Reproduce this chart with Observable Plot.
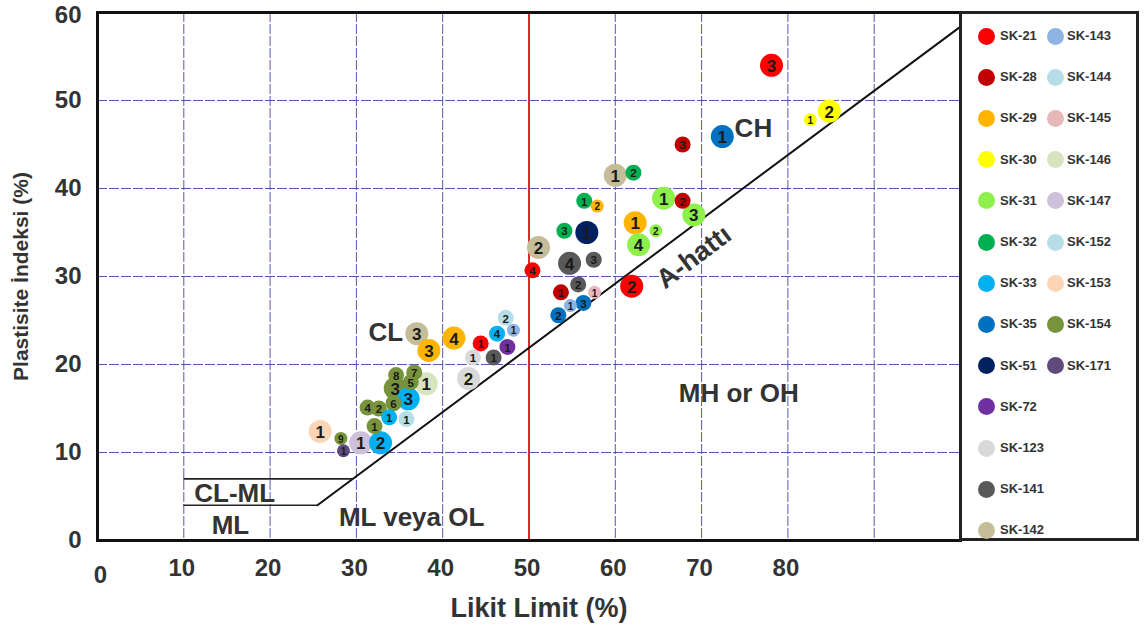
<!DOCTYPE html>
<html>
<head>
<meta charset="utf-8">
<script src="https://cdn.jsdelivr.net/npm/d3@7"></script>
<script src="https://cdn.jsdelivr.net/npm/@observablehq/plot@0.6"></script>
<style>
  body { margin: 0; background: #fff; }
  #chart { position: relative; width: 1144px; height: 631px; font-family: "Liberation Sans", Arial, sans-serif; }
  #legend { position: absolute; left: 959px; top: 11px; width: 180px; height: 530px; border: 3px solid #222; box-sizing: border-box; background: #fff; }
  .sw { position: absolute; width: 17px; height: 17px; border-radius: 50%; }
  .lab { position: absolute; font-weight: bold; font-size: 13px; color: #333; line-height: 14px; }
</style>
</head>
<body>
<div id="chart"><div id="legend"></div></div>
<script>
// ---- Data: samples, point labels, Likit Limit (LL) and Plastisite İndeksi (PI) ----
const samples = ["SK-21", "SK-28", "SK-29", "SK-30", "SK-31", "SK-32", "SK-33", "SK-35", "SK-51", "SK-72", "SK-123",
  "SK-141", "SK-142", "SK-143", "SK-144", "SK-145", "SK-146", "SK-147", "SK-152", "SK-153", "SK-154", "SK-171"];

const pointSample = [
  "SK-142", "SK-29", "SK-29", "SK-21", "SK-72", "SK-141", "SK-123", "SK-33", "SK-143", "SK-144",
  "SK-123", "SK-154", "SK-154", "SK-154", "SK-154", "SK-146", "SK-33", "SK-154", "SK-154", "SK-154",
  "SK-33", "SK-152", "SK-154", "SK-153", "SK-154", "SK-147", "SK-33", "SK-171",
  "SK-142", "SK-32", "SK-32", "SK-29", "SK-32", "SK-51", "SK-142", "SK-141", "SK-141", "SK-21",
  "SK-29", "SK-31", "SK-31", "SK-31", "SK-28", "SK-31", "SK-21", "SK-141", "SK-145", "SK-28",
  "SK-143", "SK-35", "SK-35", "SK-21", "SK-30", "SK-30", "SK-35", "SK-28"
];
const pointLabel = [
  "3", "3", "4", "1", "1", "1", "1", "4", "1", "2",
  "2", "8", "7", "3", "5", "1", "3", "6", "4", "2",
  "1", "1", "1", "1", "9", "1", "2", "1",
  "1", "2", "1", "2", "3", "1", "2", "4", "3", "4",
  "1", "2", "4", "1", "2", "3", "2", "2", "1", "1",
  "1", "3", "2", "3", "2", "1", "1", "3"
];
const likitLimit = [
  37.0, 38.4, 41.3, 44.4, 47.5, 45.9, 43.5, 46.3, 48.2, 47.3,
  43.0, 34.6, 36.7, 34.5, 36.3, 38.1, 36.0, 34.3, 31.3, 32.6,
  33.8, 35.8, 32.1, 25.8, 28.2, 30.5, 32.8, 28.5,
  60.0, 62.1, 56.4, 57.9, 54.1, 56.7, 51.1, 54.7, 57.5, 50.4,
  62.3, 64.7, 62.7, 65.6, 67.8, 69.1, 61.9, 55.7, 57.6, 53.7,
  54.8, 56.3, 53.4, 78.1, 84.8, 82.6, 72.4, 67.8
];
const plastisiteIndeksi = [
  23.5, 21.6, 23.0, 22.4, 22.0, 20.8, 20.8, 23.5, 23.9, 25.3,
  18.4, 18.8, 19.1, 17.3, 18.0, 17.8, 16.1, 15.6, 15.1, 15.0,
  14.0, 13.8, 13.0, 12.4, 11.6, 11.1, 11.1, 10.2,
  41.5, 41.8, 38.6, 38.0, 35.2, 35.0, 33.3, 31.5, 31.9, 30.7,
  36.1, 35.2, 33.6, 38.9, 38.6, 37.0, 28.9, 29.1, 28.2, 28.2,
  26.7, 27.0, 25.6, 54.0, 48.8, 47.8, 45.9, 45.0
];

// Tick values and zone annotations
const xTicks = [10, 20, 30, 40, 50, 60, 70, 80];
const yTicks = [0, 10, 20, 30, 40, 50];
const zoneText = ["CL", "CH", "MH or OH", "CL-ML", "ML", "ML veya OL"];
const zoneLL = [33.4, 76.0, 74.3, 15.9, 15.4, 36.4];
const zonePI = [23.6, 46.8, 16.7, 5.3, 1.7, 2.6];

// ---- Styles ----
const sampleColors = ["#ff0000", "#c00000", "#ffb400", "#ffff00", "#8ef04a", "#00b050", "#00b0f0", "#0070c0", "#002060",
  "#7030a0", "#d9d9d9", "#595959", "#c4bd97", "#8db4e2", "#b7dee8", "#e6b9b8", "#d7e4bd", "#ccc0da", "#b7dee8",
  "#fcd5b4", "#77933c", "#604a7b"];
const bigMarks = new Set(["SK-142:3", "SK-29:3", "SK-29:4", "SK-123:2", "SK-154:3", "SK-146:1", "SK-33:3", "SK-153:1",
  "SK-147:1", "SK-33:2", "SK-142:1", "SK-51:1", "SK-142:2", "SK-141:4", "SK-29:1", "SK-31:4", "SK-31:1", "SK-31:3",
  "SK-21:2", "SK-21:3", "SK-30:2", "SK-35:1"]);
const tinyMarks = new Set(["SK-154:9", "SK-171:1", "SK-30:1", "SK-31:2", "SK-29:2", "SK-143:1", "SK-145:1"]);
const sizeClasses = [
  {name: "big", r: 11.5, font: 17},
  {name: "small", r: 8, font: 11.5},
  {name: "tiny", r: 6.5, font: 10}
];
const font = '"Liberation Sans", Arial, sans-serif';
const ink = "#333";
const gridStyle = {stroke: "#3c3c9c", strokeOpacity: 0.85, strokeDasharray: "10,2", strokeWidth: 1};
const tickStyle = {tickSize: 0, fontSize: 24, fontWeight: "bold", fill: ink, label: null};

const points = pointSample.map((s, i) => ({sample: s, label: pointLabel[i], ll: likitLimit[i], pi: plastisiteIndeksi[i]}));
const sizeOf = d => {
  const k = d.sample + ":" + d.label;
  return bigMarks.has(k) ? "big" : tinyMarks.has(k) ? "tiny" : "small";
};

// A-line (PI = 0.73 (LL - 20)) and the CL-ML band limits at PI = 4 and PI = 7
const aLine = pi => 20 + pi / 0.73;
const aLinePts = [{ll: aLine(4), pi: 4}, {ll: 100, pi: 0.73 * 80}];
const bandLines = [4, 7].map(pi => ({pi, ll1: 10, ll2: aLine(pi)}));
const zones = zoneText.map((t, i) => ({t, ll: zoneLL[i], pi: zonePI[i]}));

const marks = [
  Plot.gridX([...xTicks, 90], gridStyle),
  Plot.gridY([10, 20, 30, 40, 50], gridStyle),
  Plot.ruleX([50], {y1: 0, y2: 60, stroke: "#e3262b", strokeWidth: 2}),
  Plot.line(aLinePts, {x: "ll", y: "pi", stroke: "#111", strokeWidth: 2}),
  Plot.ruleY(bandLines, {y: "pi", x1: "ll1", x2: "ll2", stroke: "#222", strokeWidth: 1.6}),
  Plot.text(zones, {x: "ll", y: "pi", text: "t", fontSize: 26, fontWeight: "bold", fill: ink, fontFamily: font}),
  Plot.text(["A-hattı"], {x: 69.1, y: 32.2, text: d => d, rotate: -37, fontSize: 27, fontWeight: "bold", fill: ink, fontFamily: font}),
];
for (const c of sizeClasses) {
  const sub = points.filter(d => sizeOf(d) === c.name);
  marks.push(Plot.dot(sub, {x: "ll", y: "pi", r: c.r, fill: "sample", stroke: "none"}));
}
for (const c of sizeClasses) {
  const sub = points.filter(d => sizeOf(d) === c.name);
  marks.push(Plot.text(sub, {x: "ll", y: "pi", text: "label", fontSize: c.font, fontWeight: "bold", fill: "#1a1a1a",
    fontFamily: font, dy: 1}));
}
marks.push(
  Plot.frame({stroke: "#111", strokeWidth: 3}),
  Plot.axisX(xTicks, {...tickStyle, tickPadding: 18, dx: -2}),
  Plot.axisX([0], {...tickStyle, tickPadding: 25, dx: 3}),
  Plot.axisY(yTicks, {...tickStyle, tickPadding: 16}),
  Plot.axisY([60], {...tickStyle, tickPadding: 16, dy: 3}),
  Plot.text(["Likit Limit (%)"], {frameAnchor: "bottom", text: d => d, dx: 10, dy: 76, fontSize: 27,
    fontWeight: "bold", fill: ink, fontFamily: font}),
  Plot.axisY({ticks: [], tickSize: 0, label: "Plastisite İndeksi (%)", labelAnchor: "center", labelArrow: "none",
    labelOffset: 84, fontSize: 21, fontWeight: "bold", fill: ink})
);

const chart = Plot.plot({
  width: 1144,
  height: 631,
  marginLeft: 97,
  marginRight: 184,
  marginTop: 12,
  marginBottom: 91,
  x: {domain: [0, 100]},
  y: {domain: [0, 60]},
  color: {domain: samples, range: sampleColors},
  style: {fontFamily: font, background: "#fff", overflow: "visible"},
  marks
});
document.getElementById("chart").prepend(chart);

// Legend: two columns of sample swatches
const legend = document.getElementById("legend");
const colA = samples.slice(0, 13);
const colB = samples.slice(13);
const rowY = i => 22 + i * 41.2;
function addItem(name, col, i) {
  const color = sampleColors[samples.indexOf(name)];
  const sw = document.createElement("div");
  sw.className = "sw";
  sw.style.background = color;
  sw.style.left = (col === 0 ? 24 : 93) - 8.5 + "px";
  sw.style.top = rowY(i) - 8.5 + "px";
  legend.appendChild(sw);
  const t = document.createElement("div");
  t.className = "lab";
  t.textContent = name;
  t.style.left = (col === 0 ? 38 : 105) + "px";
  t.style.top = rowY(i) - 7 + "px";
  legend.appendChild(t);
}
colA.forEach((s, i) => addItem(s, 0, i));
colB.forEach((s, i) => addItem(s, 1, i));
</script>
</body>
</html>
